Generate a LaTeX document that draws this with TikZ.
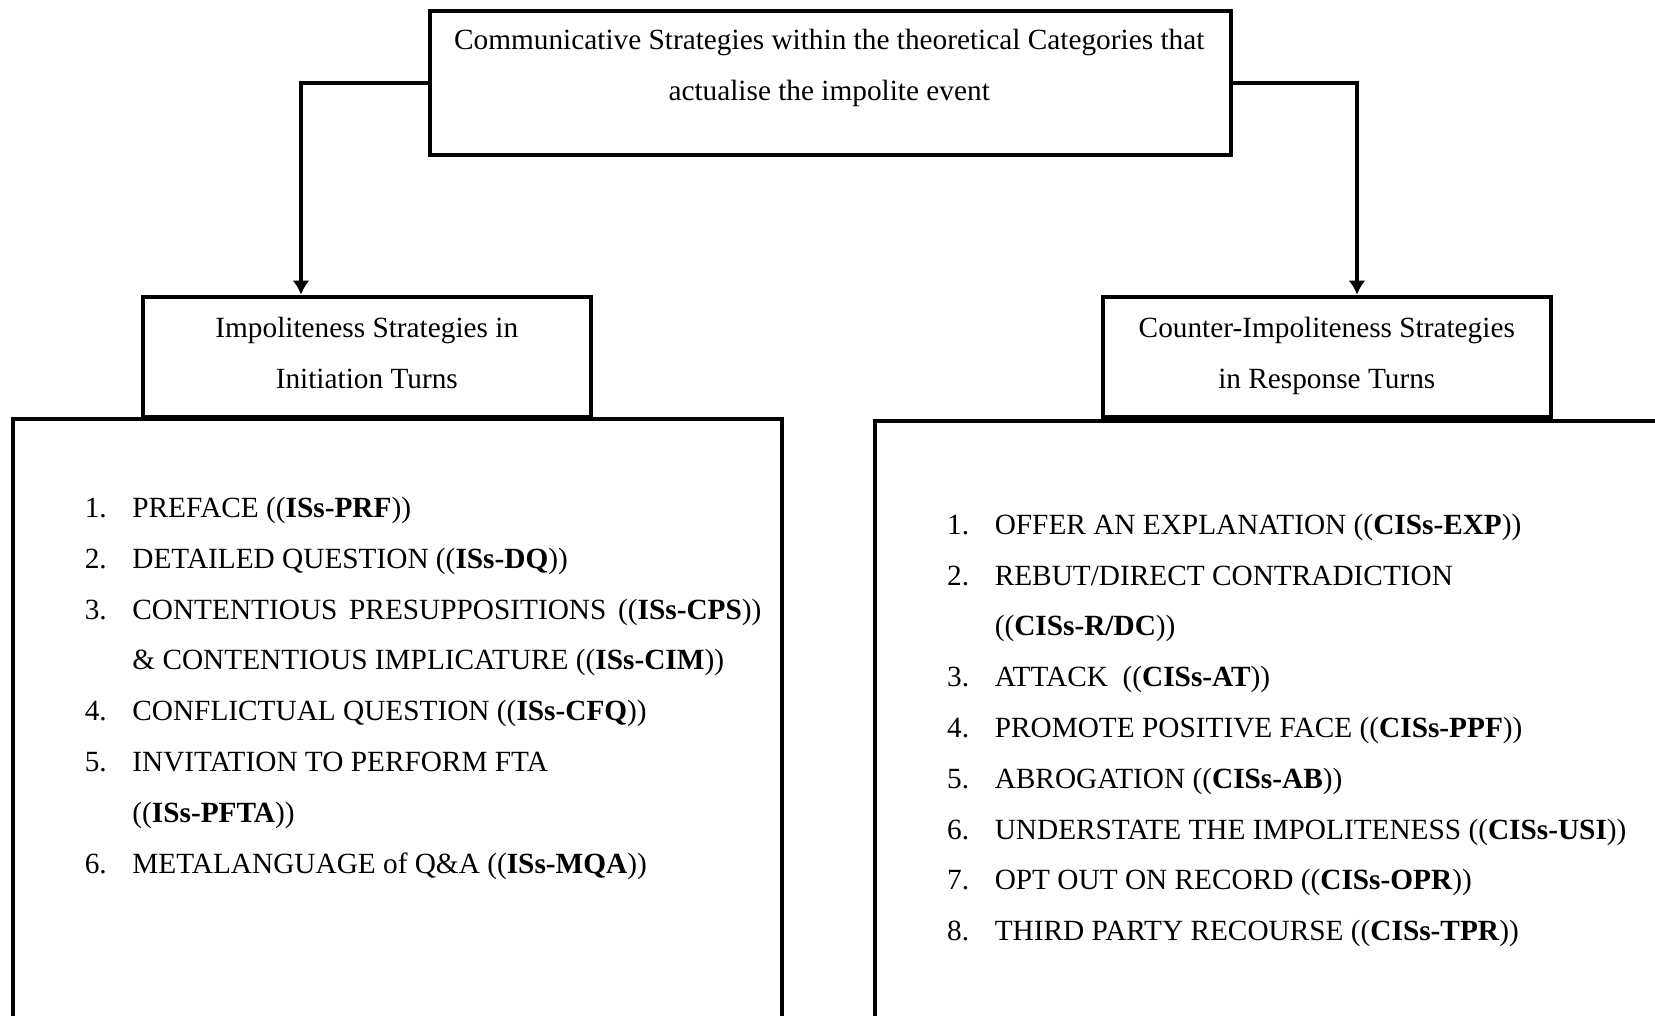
\documentclass[tikz,border=0pt]{standalone}
\usepackage{fontspec}
\setmainfont{Liberation Serif}
\usepackage{tikz}
\usetikzlibrary{arrows.meta,shapes}

\newcommand{\itemno}[1]{\makebox[23.8bp][l]{#1}}
\newcommand{\itemcont}{\hspace*{23.8bp}}

\begin{document}
\begin{tikzpicture}[>={Latex[length=7bp,width=8.5bp]},line join=miter,
  box/.style={draw,line width=2bp,rectangle,inner sep=0pt},
  txt/.style={font=\fontsize{14.65bp}{25.4bp}\selectfont}]
%%
\clip (0bp,0bp) rectangle (827.5bp,508bp);
\node (cat) at (415.25bp,466.6bp) [box,minimum width=400.5bp,minimum height=72.25bp] {};
  \node (catTxt) at (414.6bp,457.75bp) [txt,align=center,anchor=base] {Communicative Strategies within the theoretical Categories that\\actualise the impolite event};
  \node (hdrIS) at (183.4bp,329.6bp) [box,txt,align=center,text depth=4.2bp,minimum width=224.25bp,minimum height=60.2bp] {Impoliteness Strategies in\\Initiation Turns};
  \node (hdrCIS) at (663.4bp,329.6bp) [box,txt,align=center,text depth=4.2bp,minimum width=224.25bp,minimum height=60.2bp] {Counter-Impoliteness Strategies\\in Response Turns};
  \node (bigIS) at (198.7bp,139.25bp) [box,minimum width=384.65bp,minimum height=318.5bp] {};
  \node (bigCIS) at (643.75bp,138.75bp) [box,minimum width=412.5bp,minimum height=317.5bp] {};
  \draw [->,line width=2bp] (cat.west) -| ([xshift=-32.9bp]hdrIS.north);
  \draw [->,line width=2bp] (cat.east) -| ([xshift=15.1bp]hdrCIS.north);
%
\node (listIS) at (42.2bp,71.45bp) [txt,align=left,anchor=base west,inner sep=0pt] {%
  \itemno{1.}PREFACE ((\textbf{ISs-PRF}))\\
  \itemno{2.}DETAILED QUESTION ((\textbf{ISs-DQ}))\\
  \itemno{3.}\makebox[314.5bp][s]{CONTENTIOUS PRESUPPOSITIONS ((\textbf{ISs-CPS}))}\\
  \itemcont\& CONTENTIOUS IMPLICATURE ((\textbf{ISs-CIM}))\\
  \itemno{4.}CONFLICTUAL QUESTION ((\textbf{ISs-CFQ}))\\
  \itemno{5.}INVITATION TO PERFORM FTA\\
  \itemcont((\textbf{ISs-PFTA}))\\
  \itemno{6.}METALANGUAGE of Q\&A ((\textbf{ISs-MQA}))};
  \node (listCIS) at (473.4bp,37.65bp) [txt,align=left,anchor=base west,inner sep=0pt] {%
  \itemno{1.}OFFER AN EXPLANATION ((\textbf{CISs-EXP}))\\
  \itemno{2.}REBUT/DIRECT CONTRADICTION\\
  \itemcont((\textbf{CISs-R/DC}))\\
  \itemno{3.}ATTACK\ \ ((\textbf{CISs-AT}))\\
  \itemno{4.}PROMOTE POSITIVE FACE ((\textbf{CISs-PPF}))\\
  \itemno{5.}ABROGATION ((\textbf{CISs-AB}))\\
  \itemno{6.}UNDERSTATE THE IMPOLITENESS ((\textbf{CISs-USI}))\\
  \itemno{7.}OPT OUT ON RECORD ((\textbf{CISs-OPR}))\\
  \itemno{8.}THIRD PARTY RECOURSE ((\textbf{CISs-TPR}))};
%
\end{tikzpicture}
\end{document}
